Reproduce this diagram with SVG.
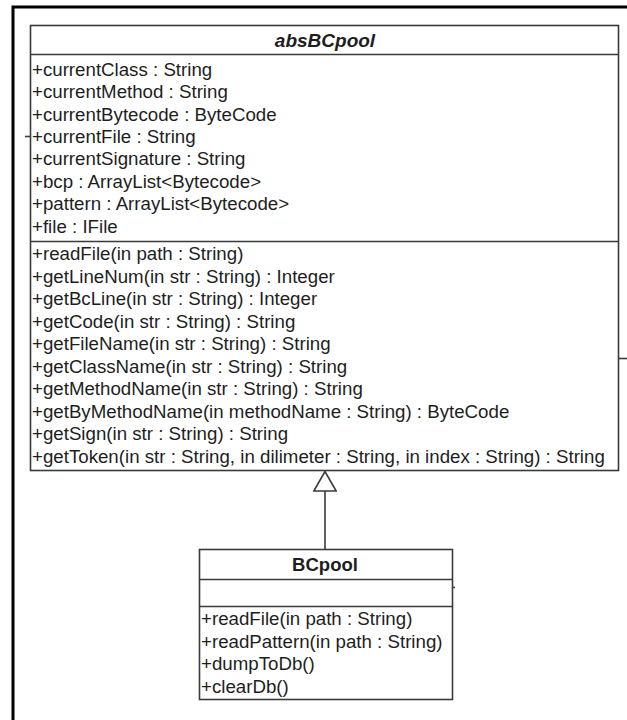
<svg xmlns="http://www.w3.org/2000/svg" width="627" height="720" viewBox="0 0 627 720">
  <style>
    .box { fill: #ffffff; stroke: #3a3a3a; stroke-width: 1.6; }
    .sep { stroke: #3a3a3a; stroke-width: 1.6; fill: none; }
    .txt { font-family: "Liberation Sans", Arial, sans-serif; font-size: 18.7px; fill: #1e1e1e; }
    .title { font-family: "Liberation Sans", Arial, sans-serif; font-weight: bold; fill: #1e1e1e; text-anchor: middle; }
    .frame { stroke: #000000; stroke-width: 3; fill: none; }
    .edge { stroke: #3a3a3a; stroke-width: 1.6; fill: none; }
  </style>
  <defs>
    <!-- hollow triangle for generalization, apex at the line end -->
    <marker id="inherit" viewBox="0 0 21 24" refX="20.5" refY="12" markerWidth="21" markerHeight="24" markerUnits="userSpaceOnUse" orient="auto">
      <path d="M20.5 12 L1 0.8 L1 23.2 Z" fill="#ffffff" stroke="#3a3a3a" stroke-width="1.6"/>
    </marker>
  </defs>

  <rect width="627" height="720" fill="#ffffff"/>

  <!-- page frame -->
  <path class="frame" d="M13 720 L13 7 L627 7"/>

  <!-- abstract base class -->
  <g id="absBCpool">
    <rect class="box" x="30.5" y="25.5" width="588" height="445"/>
    <line class="sep" x1="30.5" y1="54.5" x2="618.5" y2="54.5"/>
    <line class="sep" x1="30.5" y1="241.5" x2="618.5" y2="241.5" stroke-width="2.2"/>
    <line class="sep" x1="618.5" y1="358.5" x2="627" y2="358.5"/>
    <line class="sep" x1="25" y1="136.5" x2="30.5" y2="136.5"/>
    <text class="title" x="325" y="46.5" font-size="19" font-style="italic">absBCpool</text>
    <text class="txt" x="32" y="76">+currentClass : String</text>
    <text class="txt" x="32" y="98">+currentMethod : String</text>
    <text class="txt" x="32" y="120.5">+currentBytecode : ByteCode</text>
    <text class="txt" x="32" y="143">+currentFile : String</text>
    <text class="txt" x="32" y="165">+currentSignature : String</text>
    <text class="txt" x="32" y="187.5">+bcp : ArrayList&lt;Bytecode&gt;</text>
    <text class="txt" x="32" y="210">+pattern : ArrayList&lt;Bytecode&gt;</text>
    <text class="txt" x="32" y="232.5">+file : IFile</text>
    <text class="txt" x="32" y="260">+readFile(in path : String)</text>
    <text class="txt" x="32" y="282.5">+getLineNum(in str : String) : Integer</text>
    <text class="txt" x="32" y="305">+getBcLine(in str : String) : Integer</text>
    <text class="txt" x="32" y="327.5">+getCode(in str : String) : String</text>
    <text class="txt" x="32" y="350">+getFileName(in str : String) : String</text>
    <text class="txt" x="32" y="372.5">+getClassName(in str : String) : String</text>
    <text class="txt" x="32" y="395">+getMethodName(in str : String) : String</text>
    <text class="txt" x="32" y="417.5">+getByMethodName(in methodName : String) : ByteCode</text>
    <text class="txt" x="32" y="440">+getSign(in str : String) : String</text>
    <text class="txt" x="32" y="462.5">+getToken(in str : String, in dilimeter : String, in index : String) : String</text>
  </g>

  <!-- concrete subclass -->
  <g id="BCpool">
    <rect class="box" x="199.5" y="549.5" width="253" height="150"/>
    <line class="sep" x1="199.5" y1="579.5" x2="452.5" y2="579.5"/>
    <line class="sep" x1="199.5" y1="606.5" x2="452.5" y2="606.5"/>
    <line class="sep" x1="452.5" y1="587.5" x2="455" y2="587.5"/>
    <text class="title" x="325" y="571" font-size="18.5">BCpool</text>
    <text class="txt" x="201" y="624.5">+readFile(in path : String)</text>
    <text class="txt" x="201" y="647.5">+readPattern(in path : String)</text>
    <text class="txt" x="201" y="670">+dumpToDb()</text>
    <text class="txt" x="201" y="693">+clearDb()</text>
  </g>

  <!-- generalization -->
  <g id="connectors">
    <line class="edge" x1="325" y1="549.5" x2="325" y2="471.5" marker-end="url(#inherit)"/>
  </g>
</svg>
